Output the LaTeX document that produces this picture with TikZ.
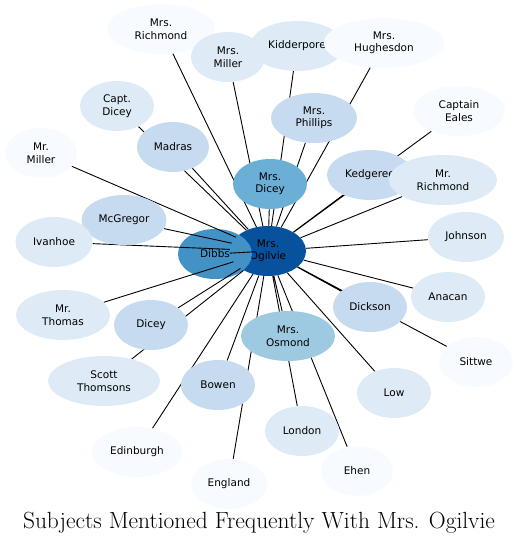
\documentclass[tikz,border=0pt]{standalone}
\usepackage{fontspec}
\newfontfamily\topicfont{DejaVu Sans}
\usetikzlibrary{shapes.geometric}
\pgfdeclarelayer{bottom}
\pgfdeclarelayer{links}
\pgfsetlayers{bottom,links,main}
\tikzset{
    topic/.style={ellipse, draw=none, inner sep=0pt, minimum height=50, align=center,
        font=\topicfont\fontsize{10.5}{12.5}\selectfont},
    link/.style={line width=0.9pt, black}
}
\begin{document}
\begin{tikzpicture}[x=1pt, y=-1pt]
    % Define colors from the blues scale
    \definecolor{blueA}{HTML}{F7FBFF}
    \definecolor{blueB}{HTML}{DEEBF7}
    \definecolor{blueC}{HTML}{C6DBEF}
    \definecolor{blueD}{HTML}{9ECAE1}
    \definecolor{blueE}{HTML}{6BAED6}
    \definecolor{blueF}{HTML}{4292C6}
    \definecolor{blueH}{HTML}{08519C}

    \useasboundingbox (0,0) rectangle (518,544);

    % Hub and the node lying under the links
    \begin{pgfonlayer}{bottom}
        \node[topic, fill=blueH, minimum width=76] (OG) at (268,251) {Mrs.\\Ogilvie};
        \node[topic, fill=blueF, minimum width=74] (DB) at (215,254) {Dibbs};
    \end{pgfonlayer}

    % Upper topics
    \node[topic, fill=blueE, minimum width=74] (MD) at (270,184) {Mrs.\\Dicey};
    \node[topic, fill=blueC, minimum width=72] (MA) at (173,147) {Madras};
    \node[topic, fill=blueB, minimum width=74] (CD) at (117,106) {Capt.\\Dicey};
    \node[topic, fill=blueA, minimum width=72] (MM) at (41,153) {Mr.\\Miller};
    \node[topic, fill=blueA, minimum width=108] (RR) at (161,29) {Mrs.\\Richmond};
    \node[topic, fill=blueB, minimum width=74] (ML) at (228,57) {Mrs.\\Miller};
    \node[topic, fill=blueB, minimum width=94] (KP) at (297,46) {Kidderpore};
    \node[topic, fill=blueA, minimum width=120] (HU) at (384,43) {Mrs.\\Hughesdon};
    \node[topic, fill=blueC, minimum width=86] (PH) at (314,118) {Mrs.\\Phillips};
    \node[topic, fill=blueA, minimum width=92] (CE) at (459,111) {Captain\\Eales};
    \node[topic, fill=blueC, minimum width=86] (KE) at (370,175) {Kedgeree};
    \node[topic, fill=blueB, minimum width=108] (MR) at (443,180) {Mr.\\Richmond};

    % Side topics
    \node[topic, fill=blueC, minimum width=85] (MG) at (124,220) {McGregor};
    \node[topic, fill=blueB, minimum width=77] (IV) at (54,242) {Ivanhoe};
    \node[topic, fill=blueB, minimum width=76] (JO) at (466,237) {Johnson};
    \node[topic, fill=blueB, minimum width=74] (AN) at (448,297) {Anacan};
    \node[topic, fill=blueC, minimum width=74] (DK) at (370,307) {Dickson};
    \node[topic, fill=blueA, minimum width=74] (SI) at (476,362) {Sittwe};

    % Lower topics
    \node[topic, fill=blueD, minimum width=94] (MO) at (288,336) {Mrs.\\Osmond};
    \node[topic, fill=blueB, minimum width=94] (MT) at (63,315) {Mr.\\Thomas};
    \node[topic, fill=blueC, minimum width=74] (DI) at (151,325) {Dicey};
    \node[topic, fill=blueB, minimum width=112] (ST) at (104,381) {Scott\\Thomsons};
    \node[topic, fill=blueC, minimum width=74] (BO) at (218,385) {Bowen};
    \node[topic, fill=blueA, minimum width=90] (ED) at (137,452) {Edinburgh};
    \node[topic, fill=blueA, minimum width=76] (EN) at (229,484) {England};
    \node[topic, fill=blueB, minimum width=74] (LO) at (302,431) {London};
    \node[topic, fill=blueA, minimum width=72] (EH) at (357,471) {Ehen};
    \node[topic, fill=blueB, minimum width=74] (LW) at (394,393) {Low};

    % Links from the hub
    \begin{pgfonlayer}{links}
        \draw[link] (OG) -- (DB) (OG) -- (MD) (OG) -- (MA) (OG) -- (CD)
            (OG) -- (MM) (OG) -- (RR) (OG) -- (ML) (OG) -- (KP)
            (OG) -- (HU) (OG) -- (PH) (OG) -- (CE) (OG) -- (KE)
            (OG) -- (MR) (OG) -- (MG) (OG) -- (IV) (OG) -- (JO)
            (OG) -- (AN) (OG) -- (DK) (OG) -- (SI) (OG) -- (MO)
            (OG) -- (MT) (OG) -- (DI) (OG) -- (ST) (OG) -- (BO)
            (OG) -- (ED) (OG) -- (EN) (OG) -- (LO) (OG) -- (EH)
            (OG) -- (LW);
    \end{pgfonlayer}

    % Caption
    \node[anchor=base, font=\fontsize{23.4}{28}\selectfont] (title) at (259,528)
        {Subjects Mentioned Frequently With Mrs. Ogilvie};
\end{tikzpicture}
\end{document}
